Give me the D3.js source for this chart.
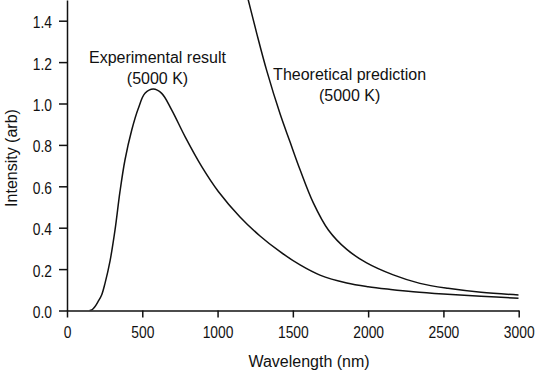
<!DOCTYPE html>
<html>
<head>
<meta charset="utf-8">
<script src="https://cdn.jsdelivr.net/npm/d3@7"></script>
<style>
  body { margin: 0; background: #fff; }
  text { fill: #111; }
</style>
</head>
<body>
<div id="content"></div>
<script>
// wavelength (nm), intensity (arb)
const expWavelength = [150, 165, 185, 208, 230, 252, 286, 319, 352, 385, 430, 474, 518, 573, 629, 695, 784, 895, 1005, 1149, 1282, 1415, 1548, 1680, 1858, 2000, 2150, 2300, 2500, 2750, 3000];
const expIntensity  = [0, 0.003, 0.018, 0.045, 0.075, 0.13, 0.24, 0.389, 0.575, 0.727, 0.872, 0.977, 1.049, 1.07, 1.049, 0.969, 0.84, 0.695, 0.575, 0.452, 0.36, 0.284, 0.22, 0.171, 0.133, 0.115, 0.102, 0.091, 0.08, 0.069, 0.059];

const theoWavelength = [1150, 1204, 1260, 1326, 1415, 1481, 1548, 1636, 1736, 1858, 1990, 2167, 2344, 2530, 2750, 3000];
const theoIntensity  = [1.66, 1.5, 1.339, 1.16, 0.95, 0.815, 0.68, 0.52, 0.389, 0.295, 0.23, 0.172, 0.131, 0.107, 0.088, 0.075];

const xTicks = [0, 500, 1000, 1500, 2000, 2500, 3000];
const yTicks = [0, 0.2, 0.4, 0.6, 0.8, 1.0, 1.2, 1.4];

const labels = [
  { lines: ["Experimental result", "(5000 K)"], x: 157.5, y: 63 },
  { lines: ["Theoretical prediction", "(5000 K)"], x: 349.6, y: 80 }
];

//////////////////// drawing area
const W = 535, H = 374;
const margin = { left: 67, right: 518.7, top: 0, bottom: 310.5 };

const x = d3.scaleLinear().domain([0, 3000]).range([margin.left, margin.right]);
const y = d3.scaleLinear().domain([0, 1.5]).range([margin.bottom, margin.top]);

const svg = d3.select("#content").append("svg")
    .attr("width", W)
    .attr("height", H);

svg.append("clipPath").attr("id", "plot")
  .append("rect")
    .attr("x", margin.left).attr("y", margin.top)
    .attr("width", margin.right - margin.left).attr("height", margin.bottom - margin.top);

const font = "'Liberation Sans', Arial, sans-serif";
const squeeze = 0.84;   // tick digits are condensed in the original

// axes
const xAxis = svg.append("g")
    .attr("transform", "translate(0," + margin.bottom + ")")
    .call(d3.axisBottom(x).tickValues(xTicks).tickSize(7).tickSizeOuter(0).tickPadding(9).tickFormat(d3.format("d")));
const yAxis = svg.append("g")
    .attr("transform", "translate(" + margin.left + ",0)")
    .call(d3.axisLeft(y).tickValues(yTicks).tickSize(8).tickSizeOuter(0).tickPadding(7).tickFormat(d3.format(".1f")));

for (const ax of [xAxis, yAxis]) {
  ax.selectAll("path, line").attr("stroke", "#111").attr("stroke-width", 1.5);
  ax.selectAll("text")
    .style("font-family", font)
    .style("font-size", "16.5px")
    .attr("fill", "#111")
    .attr("x", function() { return (+this.getAttribute("x") || 0) / squeeze; })
    .attr("transform", "scale(" + squeeze + ",1)");
}
yAxis.selectAll("text").attr("dy", "0.42em");

// curves
const line = d3.line()
    .x(d => x(d[0]))
    .y(d => y(d[1]))
    .curve(d3.curveCatmullRom.alpha(0.5));

const series = [
  d3.zip(expWavelength, expIntensity),
  d3.zip(theoWavelength, theoIntensity)
];

svg.append("g").attr("clip-path", "url(#plot)")
  .selectAll("path").data(series)
  .enter().append("path")
    .attr("d", line)
    .attr("fill", "none")
    .attr("stroke", "#111")
    .attr("stroke-width", 1.5);

// annotations
for (const l of labels) {
  const t = svg.append("text")
      .attr("text-anchor", "middle")
      .style("font-family", font)
      .style("font-size", "16px");
  l.lines.forEach((s, i) => {
    t.append("tspan").attr("x", l.x).attr("y", l.y + i * 21).text(s);
  });
}

// axis titles
svg.append("text")
    .attr("x", 309)
    .attr("y", 367)
    .attr("text-anchor", "middle")
    .style("font-family", font)
    .style("font-size", "16px")
    .text("Wavelength (nm)");

svg.append("text")
    .attr("transform", "translate(17,158)rotate(-90)")
    .attr("text-anchor", "middle")
    .style("font-family", font)
    .style("font-size", "16px")
    .text("Intensity (arb)");
</script>
</body>
</html>
